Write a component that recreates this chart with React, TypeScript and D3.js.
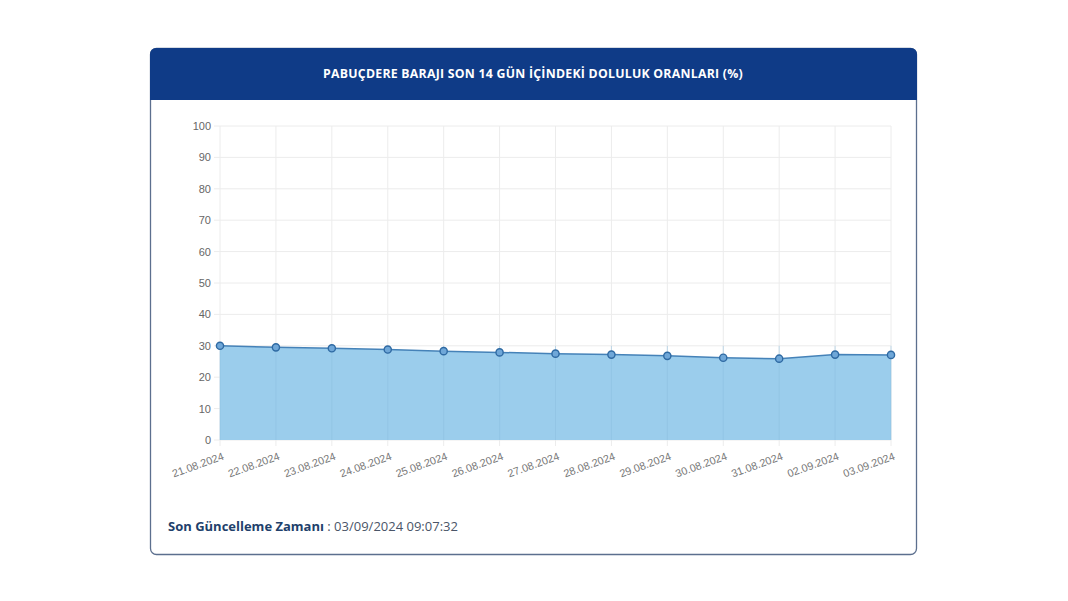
import React from "react";
import * as d3 from "d3";

const dates = ["21.08.2024","22.08.2024","23.08.2024","24.08.2024","25.08.2024","26.08.2024","27.08.2024","28.08.2024","29.08.2024","30.08.2024","31.08.2024","02.09.2024","03.09.2024"];
const values = [30.0, 29.5, 29.2, 28.8, 28.3, 27.9, 27.5, 27.2, 26.8, 26.2, 25.9, 27.2, 27.1];
const yTicks = [0, 10, 20, 30, 40, 50, 60, 70, 80, 90, 100];
const title = "PABUÇDERE BARAJI SON 14 GÜN İÇİNDEKİ DOLULUK ORANLARI (%)";
const footerLabel = "Son Güncelleme Zamanı";
const footerValue = " : 03/09/2024 09:07:32";

export default function App() {
  const W = 1068, H = 601;
  const x = d3.scalePoint<string>().domain(dates).range([220, 891]);
  const y = d3.scaleLinear().domain([0, 100]).range([440, 126]);
  const pts = dates.map((d, i) => ({ d, v: values[i] }));
  const area = d3.area<{ d: string; v: number }>().x(p => x(p.d)!).y0(y(0)).y1(p => y(p.v));
  const line = d3.line<{ d: string; v: number }>().x(p => x(p.d)!).y(p => y(p.v));
  const font = "'Open Sans', 'Noto Sans', sans-serif";
  return (
    <svg width={W} height={H} style={{ position: "absolute", left: 0, top: 0, background: "#fff" }}>
      <defs>
        <clipPath id="hdr">
          <rect x={150} y={48} width={767} height={52} />
        </clipPath>
      </defs>
      <rect x={150.5} y={48.5} width={766} height={506} rx={6} fill="#fff" stroke="#5c6f8e" strokeWidth={1.3} />
      <g clipPath="url(#hdr)">
        <rect x={150} y={48} width={767} height={60} rx={6} fill="#0f3b87" />
      </g>
      <text x={533} y={78} textAnchor="middle" fill="#fff" fontFamily={font} fontWeight={700} fontSize={12.3} letterSpacing={0.25}>{title}</text>

      {yTicks.map(t => (
        <g key={t}>
          <line x1={214} x2={891} y1={y(t)} y2={y(t)} stroke="#ececec" strokeWidth={1} />
          <text x={211} y={y(t) + 4} textAnchor="end" fill="#666" fontFamily="'Liberation Sans', Arial, sans-serif" fontSize={11}>{t}</text>
        </g>
      ))}
      {dates.map(d => (
        <line key={d} x1={x(d)} x2={x(d)} y1={126} y2={446} stroke="#ececec" strokeWidth={1} />
      ))}
      <path d={area(pts)!} fill="#9bcdec" />
      {dates.map(d => (
        <line key={"g" + d} x1={x(d)} x2={x(d)} y1={y(30)} y2={440} stroke="#8cbfe0" strokeWidth={1} opacity={0.5} />
      ))}
      <path d={line(pts)!} fill="none" stroke="#4582b8" strokeWidth={1.5} />
      {pts.map(p => (
        <circle key={p.d} cx={x(p.d)} cy={y(p.v)} r={3.6} fill="#6fa7d8" stroke="#2f6aa3" strokeWidth={1.4} />
      ))}
      {dates.map(d => (
        <text key={"l" + d} transform={`translate(${x(d)! + 2},${452}) rotate(-20)`} textAnchor="end" dy="0.7em" fill="#777" fontFamily="'Liberation Sans', Arial, sans-serif" fontSize={10.8}>{d}</text>
      ))}
      <text x={168} y={531} fontFamily={font} fontSize={13}>
        <tspan fill="#213f6b" fontWeight={700}>{footerLabel}</tspan>
        <tspan fill="#4a5568">{footerValue}</tspan>
      </text>
    </svg>
  );
}
